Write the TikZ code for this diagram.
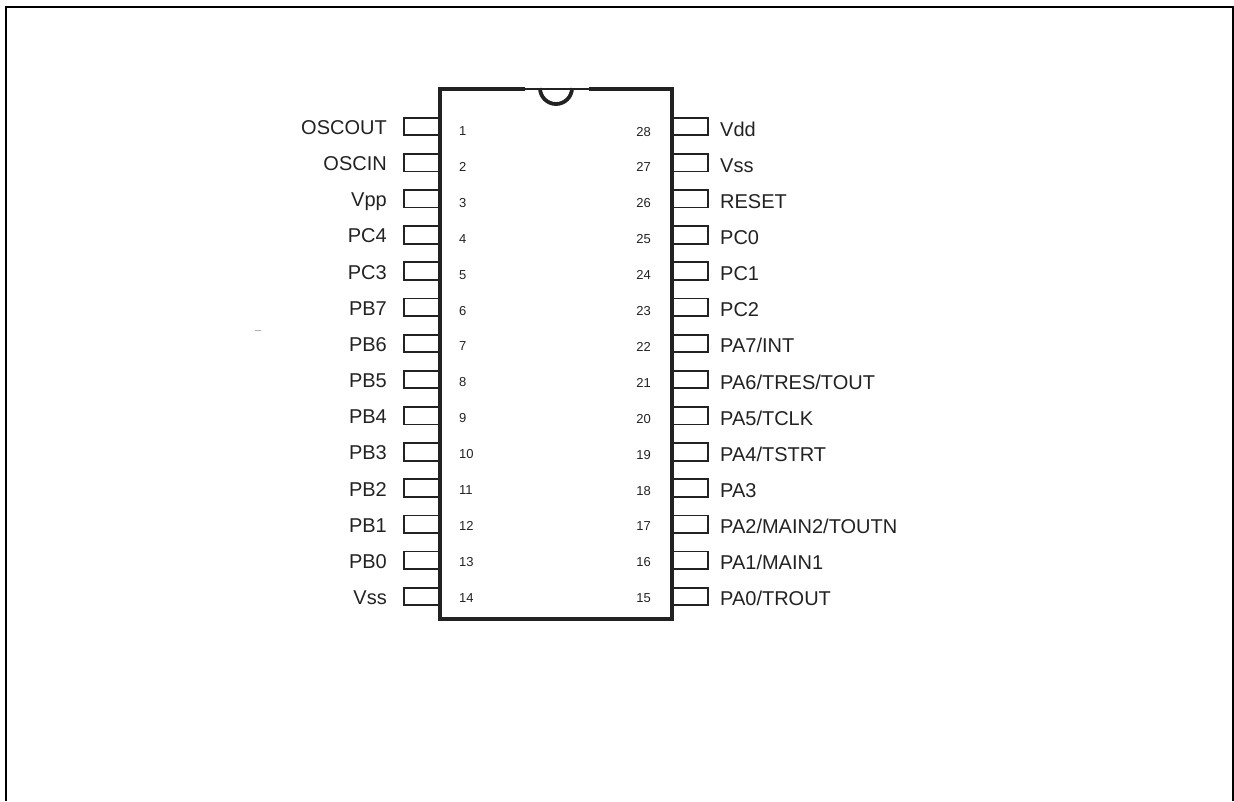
\documentclass[tikz,border=0pt]{standalone}
\usepackage{fontspec}
\setmainfont{Liberation Sans}
\definecolor{ink}{HTML}{222222}
\tikzset{
 x=1pt,y=-1pt,
 pinbox/.style={draw=ink,line width=1.8pt,fill=white,minimum width=36pt,minimum height=17.5pt,inner sep=0pt,outer sep=0pt},
 pinname/.style={font=\fontsize{20}{20}\selectfont,text=ink,inner sep=0pt},
 pinnum/.style={font=\fontsize{13}{14}\selectfont,text=ink,inner sep=0pt},
 chip/.style={line width=3.8pt,draw=ink,line cap=butt},
}
\begin{document}
\begin{tikzpicture}
\useasboundingbox (0,0) rectangle (1234,801);
\coordinate (fbl) at (6,801);
\coordinate (ftl) at (6,6.5);
\coordinate (ftr) at (1233,6.5);
\coordinate (fbr) at (1233,801);
\draw[black,line width=2pt] (fbl) -- (ftl) -- (ftr) -- (fbr);
% left pins
\foreach \n/\t [count=\i from 0] in {1/OSCOUT,2/OSCIN,3/Vpp,4/PC4,5/PC3,6/PB7,7/PB6,8/PB5,9/PB4,10/PB3,11/PB2,12/PB1,13/PB0,14/Vss}{
  \pgfmathsetmacro{\yy}{126.5+36.15*\i}
  \pgfmathsetmacro{\ny}{135.4+35.92*\i}
  \node[pinbox,anchor=east] (L\n) at (440,\yy) {};
  \node[pinname,anchor=base east] (LT\n) at (387,\yy+8) {\t};
  \node[pinnum,anchor=base west] (LN\n) at (459,\ny) {\n};
}
% right pins
\foreach \n/\t [count=\i from 0] in {28/Vdd,27/Vss,26/RESET,25/PC0,24/PC1,23/PC2,22/{PA7/INT},21/{PA6/TRES/TOUT},20/{PA5/TCLK},19/{PA4/TSTRT},18/PA3,17/{PA2/MAIN2/TOUTN},16/{PA1/MAIN1},15/{PA0/TROUT}}{
  \pgfmathsetmacro{\yy}{126.5+36.15*\i}
  \pgfmathsetmacro{\ny}{136+35.9*\i}
  \node[pinbox,anchor=west] (R\n) at (672,\yy) {};
  \node[pinname,anchor=base west] (RT\n) at (720,\yy+9.5) {\t};
  \node[pinnum,anchor=base east] (RN\n) at (651,\ny) {\n};
}
\coordinate (a) at (525,89);
\coordinate (b) at (589,89);
\draw[chip] (a) -- (440,89) -- (440,619) -- (672,619) -- (672,89) -- (b);
\draw[ink,line width=1.8pt] (a) -- (b);
\draw[chip] (540,88) arc[start angle=180,end angle=0,radius=16];
\fill[gray!60] (255,330) rectangle (261,331);
\end{tikzpicture}
\end{document}
